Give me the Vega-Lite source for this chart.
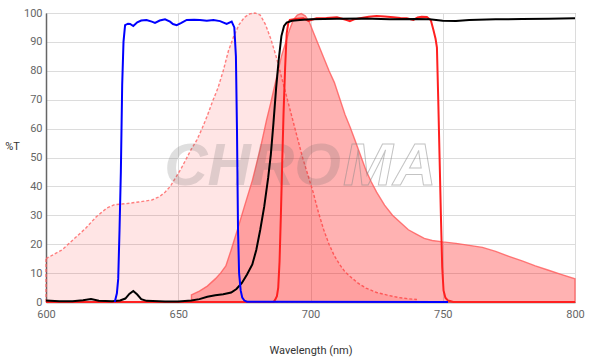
{
  "$schema": "https://vega.github.io/schema/vega-lite/v6.json",
  "width": 529,
  "height": 289,
  "autosize": {"type": "none"},
  "padding": {"left": 46, "top": 13, "right": 25, "bottom": 61},
  "background": "white",
  "config": {
    "font": "Roboto",
    "view": {"stroke": "#777", "strokeWidth": 1},
    "axis": {
      "grid": true,
      "gridColor": "#dcdcdc",
      "gridWidth": 1,
      "ticks": false,
      "labelFlush": false,
      "labelColor": "#666",
      "labelFontSize": 11,
      "labelFont": "Roboto",
      "labelPadding": 4,
      "domainColor": "#666",
      "domainWidth": 1.5,
      "titleFont": "Roboto",
      "titleFontSize": 11,
      "titleFontWeight": "normal",
      "titleColor": "#333"
    }
  },
  "datasets": {
    "excitation": [
      {"w": 600, "t": 15}, {"w": 603, "t": 16.5}, {"w": 606, "t": 18}, {"w": 609, "t": 20.5},
      {"w": 612, "t": 23}, {"w": 615, "t": 25.5}, {"w": 617, "t": 27.5}, {"w": 619, "t": 29.5},
      {"w": 621, "t": 31}, {"w": 623, "t": 32.5}, {"w": 626, "t": 33.7}, {"w": 630, "t": 34},
      {"w": 635, "t": 34.6}, {"w": 640, "t": 35.3}, {"w": 643, "t": 36.5}, {"w": 645, "t": 38},
      {"w": 647, "t": 40}, {"w": 649, "t": 43}, {"w": 651, "t": 46}, {"w": 653, "t": 49.5},
      {"w": 655, "t": 53}, {"w": 657, "t": 56}, {"w": 659, "t": 60}, {"w": 661, "t": 64.5},
      {"w": 663, "t": 69.5}, {"w": 665, "t": 74}, {"w": 667, "t": 80}, {"w": 669, "t": 87},
      {"w": 671, "t": 92}, {"w": 673, "t": 96}, {"w": 675, "t": 98.5}, {"w": 677, "t": 99.7},
      {"w": 679, "t": 100}, {"w": 681, "t": 99.3}, {"w": 683, "t": 96}, {"w": 685, "t": 91},
      {"w": 687, "t": 85}, {"w": 689, "t": 78}, {"w": 691, "t": 71}, {"w": 693, "t": 64},
      {"w": 695, "t": 57}, {"w": 697, "t": 50}, {"w": 699, "t": 44}, {"w": 701, "t": 38},
      {"w": 703, "t": 31}, {"w": 705, "t": 25}, {"w": 707, "t": 20}, {"w": 709, "t": 16},
      {"w": 711, "t": 13}, {"w": 713, "t": 10.5}, {"w": 715, "t": 8.8}, {"w": 718, "t": 6.5},
      {"w": 721, "t": 4.8}, {"w": 725, "t": 3.3}, {"w": 729, "t": 2.4}, {"w": 733, "t": 1.6},
      {"w": 737, "t": 1.1}, {"w": 740, "t": 0.9}
    ],
    "emission": [
      {"w": 655, "t": 2.5}, {"w": 658, "t": 3.8}, {"w": 661, "t": 5.5}, {"w": 664, "t": 8},
      {"w": 666, "t": 10}, {"w": 668, "t": 12.5}, {"w": 670, "t": 18}, {"w": 672.7, "t": 26},
      {"w": 675, "t": 33}, {"w": 678, "t": 42}, {"w": 681, "t": 53}, {"w": 683.4, "t": 63},
      {"w": 685, "t": 69}, {"w": 687, "t": 77}, {"w": 689, "t": 85}, {"w": 690.5, "t": 89.5},
      {"w": 692, "t": 94}, {"w": 693.5, "t": 97.6}, {"w": 695, "t": 99.3}, {"w": 696.5, "t": 99.8},
      {"w": 698, "t": 99}, {"w": 699.5, "t": 97}, {"w": 701, "t": 93.5}, {"w": 703, "t": 89},
      {"w": 705, "t": 84.5}, {"w": 707, "t": 80}, {"w": 709, "t": 76}, {"w": 711, "t": 70.5},
      {"w": 713, "t": 65}, {"w": 715, "t": 60.5}, {"w": 717, "t": 55.5}, {"w": 719, "t": 50.5},
      {"w": 721, "t": 45.5}, {"w": 723, "t": 41.5}, {"w": 725, "t": 38}, {"w": 728, "t": 33.5},
      {"w": 731, "t": 30}, {"w": 734, "t": 27.5}, {"w": 737, "t": 25}, {"w": 740, "t": 23.5},
      {"w": 743, "t": 22}, {"w": 746, "t": 21.3}, {"w": 750, "t": 20.8}, {"w": 755, "t": 20.3},
      {"w": 760, "t": 19.6}, {"w": 765, "t": 18.9}, {"w": 770, "t": 17.5}, {"w": 775, "t": 15.8},
      {"w": 780, "t": 14.2}, {"w": 785, "t": 12.5}, {"w": 790, "t": 11}, {"w": 795, "t": 9.5},
      {"w": 800, "t": 8}
    ],
    "emfilter": [
      {"w": 600, "t": 0}, {"w": 686, "t": 0}, {"w": 686.6, "t": 0.7}, {"w": 687.3, "t": 2},
      {"w": 687.8, "t": 5}, {"w": 688.3, "t": 14}, {"w": 688.8, "t": 30}, {"w": 689.3, "t": 48},
      {"w": 689.8, "t": 65}, {"w": 690.4, "t": 81}, {"w": 691, "t": 93}, {"w": 691.6, "t": 96.5},
      {"w": 692.2, "t": 97.6}, {"w": 695, "t": 98}, {"w": 697.3, "t": 98.2}, {"w": 699.2, "t": 97.3},
      {"w": 702.3, "t": 98.2}, {"w": 706, "t": 98.3}, {"w": 710, "t": 98.5}, {"w": 713.7, "t": 97.6},
      {"w": 714.9, "t": 97.2}, {"w": 716.5, "t": 97.8}, {"w": 718.7, "t": 98.2}, {"w": 722, "t": 98.7},
      {"w": 725, "t": 99}, {"w": 728, "t": 98.8}, {"w": 731.3, "t": 98.5}, {"w": 734, "t": 98.3},
      {"w": 736.4, "t": 98.2}, {"w": 738.9, "t": 97.6}, {"w": 740.5, "t": 98.5}, {"w": 742, "t": 98.7},
      {"w": 744, "t": 98.6}, {"w": 745.5, "t": 97.5}, {"w": 746.5, "t": 94}, {"w": 747.3, "t": 91},
      {"w": 747.8, "t": 88}, {"w": 748.3, "t": 70}, {"w": 748.8, "t": 50}, {"w": 749.3, "t": 30},
      {"w": 749.8, "t": 12}, {"w": 750.3, "t": 4}, {"w": 751, "t": 1.5}, {"w": 752, "t": 0.5},
      {"w": 754, "t": 0}, {"w": 800, "t": 0}
    ],
    "dichroic": [
      {"w": 600, "t": 0.5}, {"w": 605, "t": 0.3}, {"w": 610, "t": 0.3}, {"w": 614, "t": 0.6},
      {"w": 617, "t": 1}, {"w": 620, "t": 0.4}, {"w": 625, "t": 0.3}, {"w": 628, "t": 0.5},
      {"w": 630, "t": 1.2}, {"w": 631.5, "t": 2.8}, {"w": 633, "t": 3.8}, {"w": 634.5, "t": 2.6},
      {"w": 636, "t": 1}, {"w": 638, "t": 0.4}, {"w": 645, "t": 0.2}, {"w": 650, "t": 0.2},
      {"w": 655, "t": 0.5}, {"w": 658, "t": 1}, {"w": 661, "t": 1.8}, {"w": 664, "t": 2.3},
      {"w": 667, "t": 2.7}, {"w": 670, "t": 3.3}, {"w": 672, "t": 4.5}, {"w": 674, "t": 6.5},
      {"w": 676, "t": 9.5}, {"w": 678, "t": 13}, {"w": 679.5, "t": 18}, {"w": 681, "t": 25},
      {"w": 682.5, "t": 33}, {"w": 684, "t": 43}, {"w": 685, "t": 51}, {"w": 686, "t": 62},
      {"w": 687, "t": 74}, {"w": 688, "t": 84}, {"w": 689, "t": 92}, {"w": 690, "t": 95.5},
      {"w": 691, "t": 96.7}, {"w": 693, "t": 97.3}, {"w": 696, "t": 97.6}, {"w": 700, "t": 97.8},
      {"w": 710, "t": 98}, {"w": 720, "t": 98.1}, {"w": 730, "t": 97.8}, {"w": 740, "t": 97.9},
      {"w": 745, "t": 97.8}, {"w": 750, "t": 97.3}, {"w": 755, "t": 97.2}, {"w": 760, "t": 97.6},
      {"w": 770, "t": 97.8}, {"w": 780, "t": 97.9}, {"w": 790, "t": 98}, {"w": 800, "t": 98.2}
    ],
    "exfilter": [
      {"w": 626, "t": 0}, {"w": 626.8, "t": 3}, {"w": 627.3, "t": 8}, {"w": 627.8, "t": 25},
      {"w": 628.3, "t": 45}, {"w": 628.8, "t": 75}, {"w": 629.3, "t": 90}, {"w": 629.9, "t": 95.8},
      {"w": 631, "t": 96.3}, {"w": 631.8, "t": 96.2}, {"w": 633, "t": 95.5}, {"w": 634.5, "t": 96.8},
      {"w": 636, "t": 97.4}, {"w": 638, "t": 97.6}, {"w": 640, "t": 97}, {"w": 641.2, "t": 96.6},
      {"w": 643, "t": 97.4}, {"w": 645, "t": 97.8}, {"w": 646.9, "t": 97}, {"w": 648, "t": 96.2},
      {"w": 649.4, "t": 95.8}, {"w": 651, "t": 96.5}, {"w": 653.2, "t": 97.6}, {"w": 656, "t": 97.7},
      {"w": 658.2, "t": 97.6}, {"w": 660.8, "t": 97.3}, {"w": 663.3, "t": 97.6}, {"w": 665.8, "t": 97.2},
      {"w": 668.3, "t": 96.2}, {"w": 670.2, "t": 97}, {"w": 671.2, "t": 95}, {"w": 671.8, "t": 85},
      {"w": 672.2, "t": 60}, {"w": 672.6, "t": 25}, {"w": 673, "t": 10}, {"w": 673.6, "t": 4},
      {"w": 674.2, "t": 1.5}, {"w": 675, "t": 0.5}, {"w": 676, "t": 0.1}, {"w": 752, "t": 0}
    ],
    "logo": [
      {"label": "CHRO", "part": "filled", "w": 711.5, "t": 40.5},
      {"label": "MA", "part": "outline", "w": 712.3, "t": 40.5}
    ]
  },
  "encoding": {
    "x": {
      "field": "w", "type": "quantitative",
      "scale": {"domain": [600, 800], "nice": false, "zero": false},
      "axis": {"title": "Wavelength (nm)", "values": [600, 650, 700, 750, 800], "labelPadding": 6, "titleY": 51, "titleBaseline": "alphabetic"}
    },
    "y": {
      "field": "t", "type": "quantitative",
      "scale": {"domain": [0, 100], "nice": false},
      "axis": {"title": "%T", "values": [0, 10, 20, 30, 40, 50, 60, 70, 80, 90, 100], "titleAngle": 0, "titleX": -34, "titleY": 133, "titleAlign": "center", "titleBaseline": "middle"}
    }
  },
  "layer": [
    {
      "data": {"name": "excitation"},
      "mark": {"type": "area", "fill": "#ff0000", "fillOpacity": 0.1, "stroke": "#ff6a6a", "strokeWidth": 1.4, "strokeDash": [3, 2], "strokeOpacity": 0.85}
    },
    {
      "data": {"name": "emission"},
      "mark": {"type": "area", "fill": "#ff0000", "fillOpacity": 0.3, "stroke": "#ff5a5a", "strokeWidth": 1.4, "strokeOpacity": 0.8}
    },
    {
      "data": {"name": "logo"},
      "transform": [{"filter": "datum.part === 'filled'"}],
      "mark": {"type": "text", "font": "Liberation Sans", "fontSize": 60, "fontWeight": "bold", "fontStyle": "italic", "align": "right", "baseline": "alphabetic", "color": "#666666", "opacity": 0.2},
      "encoding": {"text": {"field": "label", "type": "nominal"}}
    },
    {
      "data": {"name": "logo"},
      "transform": [{"filter": "datum.part === 'outline'"}],
      "mark": {"type": "text", "font": "Liberation Sans", "fontSize": 60, "fontWeight": "bold", "fontStyle": "italic", "align": "left", "baseline": "alphabetic", "fill": "transparent", "stroke": "#888888", "strokeWidth": 1, "strokeOpacity": 0.5},
      "encoding": {"text": {"field": "label", "type": "nominal"}}
    },
    {
      "data": {"name": "emfilter"},
      "mark": {"type": "line", "color": "#ff2020", "strokeWidth": 2}
    },
    {
      "data": {"name": "dichroic"},
      "mark": {"type": "line", "color": "#000000", "strokeWidth": 2}
    },
    {
      "data": {"name": "exfilter"},
      "mark": {"type": "line", "color": "#0000ff", "strokeWidth": 2}
    }
  ]
}
